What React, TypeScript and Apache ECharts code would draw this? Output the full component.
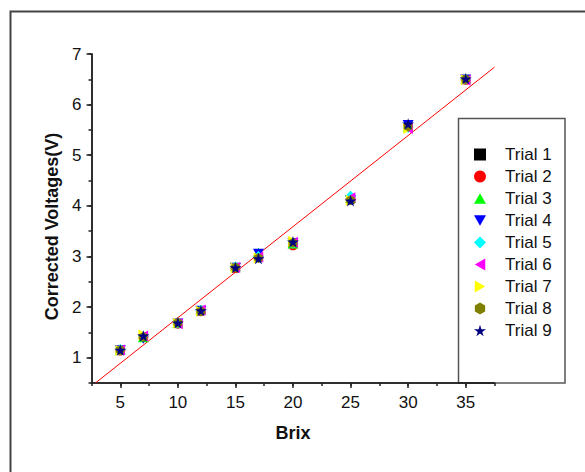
import React, { useEffect, useRef } from "react";
import * as echarts from "echarts";

const brix = [5, 7, 10, 12, 15, 17, 20, 25, 30, 35];
const trial1 = [1.15, 1.42, 1.68, 1.93, 2.78, 2.98, 3.27, 4.12, 5.58, 6.5];
const trial2 = [1.14, 1.41, 1.67, 1.92, 2.77, 2.99, 3.22, 4.13, 5.57, 6.49];
const trial3 = [1.16, 1.4, 1.69, 1.95, 2.8, 3.08, 3.25, 4.15, 5.56, 6.51];
const trial4 = [1.15, 1.37, 1.68, 1.93, 2.78, 3.06, 3.27, 4.12, 5.6, 6.5];
const trial5 = [1.16, 1.42, 1.68, 1.93, 2.79, 3.0, 3.26, 4.19, 5.55, 6.5];
const trial6 = [1.15, 1.43, 1.67, 1.94, 2.78, 2.99, 3.28, 4.16, 5.53, 6.48];
const trial7 = [1.14, 1.45, 1.68, 1.92, 2.77, 2.97, 3.3, 4.11, 5.53, 6.49];
const trial8 = [1.15, 1.41, 1.69, 1.92, 2.78, 2.97, 3.27, 4.11, 5.57, 6.5];
const trial9 = [1.15, 1.43, 1.69, 1.93, 2.78, 2.96, 3.29, 4.1, 5.62, 6.51];
const trialNames = ["Trial 1", "Trial 2", "Trial 3", "Trial 4", "Trial 5", "Trial 6", "Trial 7", "Trial 8", "Trial 9"];
const trialValues = [trial1, trial2, trial3, trial4, trial5, trial6, trial7, trial8, trial9];
const fitLine = [
  [2.84, 0.5],
  [37.5, 6.74],
];
const xMajorTicks = [5, 10, 15, 20, 25, 30, 35];
const yMajorTicks = [1, 2, 3, 4, 5, 6, 7];

const STAR = "path://M50,0 L61,35 L98,35 L68,57 L79,91 L50,70 L21,91 L32,57 L2,35 L39,35 Z";
const HEX = "path://M50,0 L93,25 L93,75 L50,100 L7,75 L7,25 Z";
const TRI_UP = "path://M50,0 L100,87 L0,87 Z";
const TRI_DOWN = "path://M0,0 L100,0 L50,87 Z";
const TRI_LEFT = "path://M0,50 L87,0 L87,100 Z";
const TRI_RIGHT = "path://M0,0 L87,50 L0,100 Z";

const markers = [
  { symbol: "rect", color: "#000000", size: 8 },
  { symbol: "circle", color: "#ff0000", size: 10 },
  { symbol: TRI_UP, color: "#00ff00", size: 11 },
  { symbol: TRI_DOWN, color: "#0000ff", size: 11 },
  { symbol: "diamond", color: "#00ffff", size: 11 },
  { symbol: TRI_LEFT, color: "#ff00ff", size: 11 },
  { symbol: TRI_RIGHT, color: "#ffff00", size: 11 },
  { symbol: HEX, color: "#808000", size: 10 },
  { symbol: STAR, color: "#000080", size: 12 },
];

const FONT = 'Arial, "Liberation Sans", sans-serif';

export default function App() {
  const ref = useRef<HTMLDivElement>(null);
  useEffect(() => {
    if (!ref.current) return;
    const chart = echarts.init(ref.current, null, { renderer: "svg" });
    const axisLine = { show: true, lineStyle: { color: "#222", width: 1.5 } };
    const scatterSeries = trialNames.map((name, i) => ({
      name,
      type: "scatter",
      xAxisIndex: 0,
      yAxisIndex: 0,
      symbol: markers[i].symbol,
      symbolSize: markers[i].size,
      symbolKeepAspect: true,
      itemStyle: { color: markers[i].color, opacity: 1 },
      z: 3 + i,
      data: brix.map((b, j) => [b, trialValues[i][j]]),
    }));
    const legendData = trialNames.map((name, i) => ({
      name,
      icon: markers[i].symbol,
      itemStyle: { color: markers[i].color },
    }));
    chart.setOption({
      animation: false,
      backgroundColor: "#ffffff",
      textStyle: { fontFamily: FONT },
      grid: { left: 91.5, right: 90.5, top: 54, bottom: 89, containLabel: false },
      xAxis: [
        {
          type: "value",
          position: "bottom",
          min: 2.5,
          max: 37.5,
          interval: 2.5,
          axisLine,
          axisTick: { show: true, inside: false, length: 3, lineStyle: { color: "#222", width: 1.5 } },
          axisLabel: { show: false },
          splitLine: { show: false },
        },
        {
          type: "value",
          position: "bottom",
          min: 2.5,
          max: 37.5,
          interval: 2.5,
          axisLine,
          axisTick: { show: true, inside: false, length: 5, customValues: xMajorTicks, lineStyle: { color: "#222", width: 1.5 } },
          axisLabel: { show: true, customValues: xMajorTicks, margin: 11, fontSize: 17, color: "#111", fontFamily: FONT },
          splitLine: { show: false },
          name: "Brix",
          nameLocation: "middle",
          nameGap: 41,
          nameTextStyle: { fontSize: 18, fontWeight: "bold", color: "#111", fontFamily: FONT },
        },
      ],
      yAxis: [
        {
          type: "value",
          position: "left",
          min: 0.5,
          max: 7,
          interval: 0.5,
          axisLine,
          axisTick: { show: true, inside: false, length: 3, lineStyle: { color: "#222", width: 1.5 } },
          axisLabel: { show: false },
          splitLine: { show: false },
        },
        {
          type: "value",
          position: "left",
          min: 0.5,
          max: 7,
          interval: 0.5,
          axisLine,
          axisTick: { show: true, inside: false, length: 5, customValues: yMajorTicks, lineStyle: { color: "#222", width: 1.5 } },
          axisLabel: { show: true, customValues: yMajorTicks, margin: 10, fontSize: 17, color: "#111", fontFamily: FONT },
          splitLine: { show: false },
          name: "Corrected Voltages(V)",
          nameLocation: "middle",
          nameGap: 30,
          nameTextStyle: { fontSize: 18, fontWeight: "bold", color: "#111", fontFamily: FONT, padding: [0, 16, 0, 0] },
        },
      ],
      legend: {
        data: legendData,
        orient: "vertical",
        left: 474,
        top: 146,
        padding: 0,
        itemWidth: 12,
        itemHeight: 12,
        itemGap: 5,
        symbolKeepAspect: true,
        textStyle: { fontSize: 17, lineHeight: 17, color: "#111", fontFamily: FONT, padding: [0, 0, 0, 14] },
        selectedMode: false,
      },
      graphic: [
        {
          type: "rect",
          shape: { x: 10.5, y: 11.5, width: 700, height: 600 },
          style: { fill: "none", stroke: "#444", lineWidth: 2 },
          silent: true,
        },
        {
          type: "rect",
          shape: { x: 458.5, y: 118.5, width: 106.5, height: 264.5 },
          style: { fill: "none", stroke: "#555", lineWidth: 1.5 },
          silent: true,
        },
      ],
      series: [
        {
          name: "Fit",
          type: "line",
          xAxisIndex: 0,
          yAxisIndex: 0,
          data: fitLine,
          showSymbol: false,
          symbol: "none",
          lineStyle: { color: "#ff0000", width: 1 },
          z: 2,
        },
        ...scatterSeries,
      ],
    });
    return () => chart.dispose();
  }, []);
  return (
    <div
      ref={ref}
      style={{ position: "fixed", left: 0, top: 0, width: 585, height: 472, background: "#fff" }}
    />
  );
}
